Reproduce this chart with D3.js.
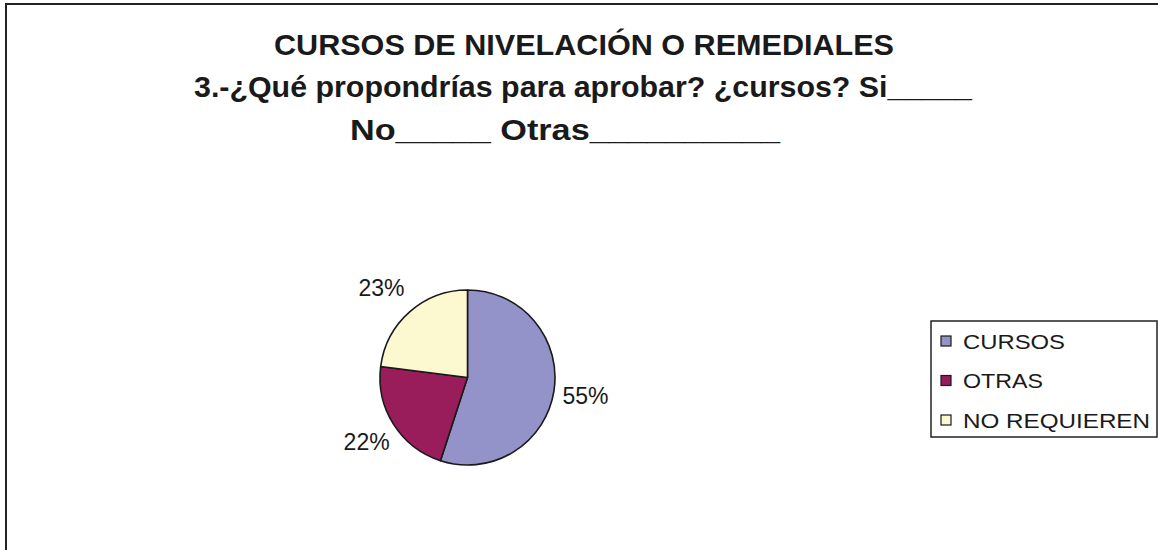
<!DOCTYPE html>
<html>
<head>
<meta charset="utf-8">
<script src="https://cdn.jsdelivr.net/npm/d3@7"></script>
<style>
  body { margin: 0; background: #fff; }
  svg { display: block; }
</style>
</head>
<body>
<svg id="chart"></svg>
<script>
// data
const categories = ["CURSOS", "OTRAS", "NO REQUIEREN"];
const values = [55, 22, 23];
const colors = ["#9393c9", "#991c5b", "#fcf8d0"];
const titleLines = [
  "CURSOS DE NIVELACIÓN O REMEDIALES",
  "3.-¿Qué propondrías para aprobar? ¿cursos? Si_____",
  "No_____  Otras__________"
];

const width = 1158, height = 550;
const svg = d3.select("#chart").attr("width", width).attr("height", height);

/* outer frame, runs off right and bottom */
svg.append("rect")
  .attr("x", 6).attr("y", 4)
  .attr("width", 1300).attr("height", 700)
  .attr("fill", "none").attr("stroke", "#222").attr("stroke-width", 2);

/* title - narrow bold look, squeezed to the reference widths */
const titleY = [55, 97, 140];
const titleW = [620, 778, 430];
const titleX = [584, 583, 565];
svg.selectAll("text.title")
  .data(titleLines)
  .enter()
  .append("text")
  .attr("class", "title")
  .attr("x", (d, i) => titleX[i])
  .attr("y", (d, i) => titleY[i])
  .attr("text-anchor", "middle")
  .attr("textLength", (d, i) => titleW[i])
  .attr("lengthAdjust", "spacingAndGlyphs")
  .style("font-family", "'Liberation Sans Narrow', 'Liberation Sans', Arial, sans-serif")
  .style("font-weight", "bold")
  .style("font-size", "30px")
  .style("fill", "#1a1a1a")
  .text(d => d);

/* pie */
const cx = 467.5, cy = 377.5, r = 87.5;
const pie = d3.pie().sort(null).value(d => d);
const arc = d3.arc().innerRadius(0).outerRadius(r);
const arcs = pie(values);

const g = svg.append("g").attr("transform", `translate(${cx},${cy})`);
g.selectAll("path")
  .data(arcs)
  .enter()
  .append("path")
  .attr("d", arc)
  .attr("fill", (d, i) => colors[i])
  .attr("stroke", "#1a1a1a")
  .attr("stroke-width", 1.6)
  .attr("stroke-linejoin", "round");

/* percent labels outside the slices */
const labelArc = d3.arc().innerRadius(r + 32).outerRadius(r + 32);
const total = d3.sum(values);
g.selectAll("text.pct")
  .data(arcs)
  .enter()
  .append("text")
  .attr("class", "pct")
  .attr("x", d => labelArc.centroid(d)[0] - (d.index === 2 ? 7 : 0))
  .attr("y", d => labelArc.centroid(d)[1] + 8)
  .attr("text-anchor", "middle")
  .style("font-family", "'Liberation Sans', Arial, sans-serif")
  .style("font-size", "23px")
  .style("fill", "#1a1a1a")
  .text(d => Math.round(d.data / total * 100) + "%");

/* legend */
const legend = svg.append("g").attr("transform", "translate(931,321)");
legend.append("rect")
  .attr("width", 226).attr("height", 116)
  .attr("fill", "#fff").attr("stroke", "#222").attr("stroke-width", 1.5);

const legY = d3.scalePoint().domain(categories).range([20, 99]);
const legW = [102, 80, 187];
const item = legend.selectAll("g.item")
  .data(categories)
  .enter()
  .append("g")
  .attr("class", "item")
  .attr("transform", d => `translate(0,${legY(d)})`);
item.append("rect")
  .attr("x", 10).attr("y", -5)
  .attr("width", 10).attr("height", 10)
  .attr("fill", (d, i) => colors[i])
  .attr("stroke", "#1a1a1a").attr("stroke-width", 1.2);
item.append("text")
  .attr("x", 32).attr("y", 7.5)
  .attr("textLength", (d, i) => legW[i])
  .attr("lengthAdjust", "spacingAndGlyphs")
  .style("font-family", "'Liberation Sans', Arial, sans-serif")
  .style("font-size", "21px")
  .style("fill", "#1a1a1a")
  .text(d => d);
</script>
</body>
</html>
